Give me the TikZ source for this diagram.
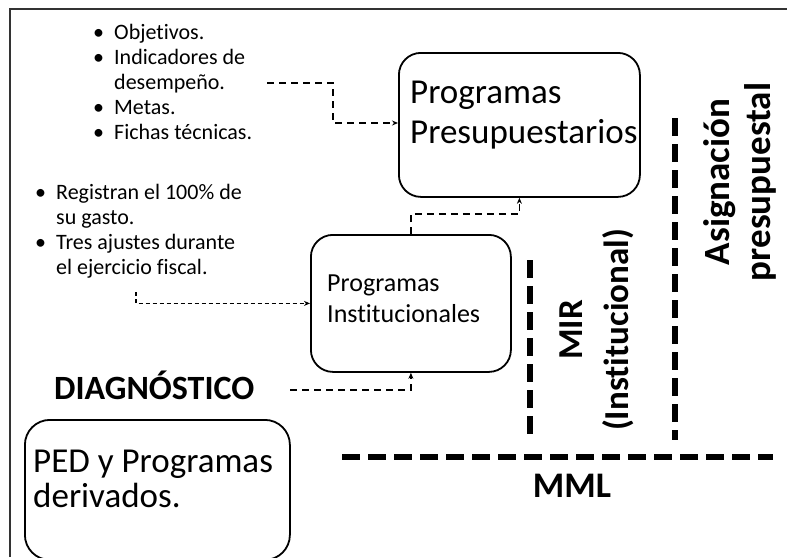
\documentclass[tikz,border=0pt]{standalone}
\usepackage{fontspec}
\setmainfont{Carlito}[Ligatures=NoCommon]
\usetikzlibrary{arrows.meta}

\newcommand{\renglones}[1]{\begin{tabular}[t]{@{}l@{}}#1\end{tabular}}
\newcommand{\vinetas}[1]{\begin{tabular}[t]{@{}p{21pt}@{}l@{}}#1\end{tabular}}

\begin{document}
\begin{tikzpicture}[x=1pt,y=-1pt,>={Stealth[length=6pt,width=5pt]},
    caja/.style={draw,line width=1.8pt,rounded corners=22pt,inner sep=0pt,anchor=north west},
    texto/.style={inner sep=0pt,anchor=base west},
    flecha/.style={->,line width=1.5pt,dash pattern=on 7pt off 5pt},
    limite/.style={line width=6pt,dash pattern=on 18pt off 8pt},
    vertical/.style={rotate=90,inner sep=0pt,align=center,font=\bfseries\fontsize{35}{46}\selectfont}]
    \useasboundingbox (0,0) rectangle (787,557);
    % marco
    \draw[line width=1.5pt,black!80] (10,557) -- (10,9) -- (787,9);

    % cajas
    \node[caja,minimum width=241pt,minimum height=144pt] (presup) at (398,52) {};
    \node[caja,minimum width=200pt,minimum height=137pt] (instit) at (310,234) {};
    \node[caja,minimum width=265pt,minimum height=140pt,rounded corners=25pt] (ped) at (24,419) {};

    \node[texto,font=\fontsize{35}{40}\selectfont] (presuptxt) at (410,103) {\renglones{Programas\\Presupuestarios}};
    \node[texto,font=\fontsize{26}{31}\selectfont] (institxt) at (327,291) {\renglones{Programas\\Institucionales}};
    \node[texto,font=\fontsize{35}{35}\selectfont] (pedtxt) at (33,472) {\renglones{PED y Programas\\derivados.}};

    % listas
    \node[texto,font=\fontsize{22}{25}\selectfont] (lista1) at (93,39) {\vinetas{\textbullet & Objetivos.\\
        \textbullet & Indicadores de\\ & desempeño.\\ \textbullet & Metas.\\ \textbullet & Fichas técnicas.}};
    \node[texto,font=\fontsize{22}{25}\selectfont] (lista2) at (35,199) {\vinetas{\textbullet & Registran el 100\% de\\
        & su gasto.\\ \textbullet & Tres ajustes durante\\ & el ejercicio fiscal.}};

    \node[texto,font=\bfseries\fontsize{34}{36}\selectfont] (diag) at (54,399) {DIAGNÓSTICO};
    \node[texto,anchor=base,font=\bfseries\fontsize{36}{36}\selectfont] (mml) at (572,497) {MML};
    \node[vertical] (mir) at (597,330) {MIR\\(Institucional)};
    \node[vertical,font=\bfseries\fontsize{37}{41}\selectfont] (asig) at (740,182) {Asignación\\presupuestal};

    % limites
    \draw[limite] (342,457) -- (773,457);
    \draw[limite] (530,260) -- (530,437);
    \draw[limite] (675,118) -- (675,440);

    % flechas
    \coordinate (c1) at (267,83);
    \coordinate (k1) at (333,123);
    \coordinate (c2) at (136,292);
    \coordinate (c3) at (290,390);
    \draw[flecha] (c1) -| (k1) -- (k1 -| presup.west);
    \draw[flecha,dash pattern=on 4pt off 3pt] (c2) |- (instit.west);
    \draw[flecha] (c3) -| (instit.south);
    \draw[flecha] (instit.north) -- ++(0,-20) -| (presup.south);
\end{tikzpicture}
\end{document}
